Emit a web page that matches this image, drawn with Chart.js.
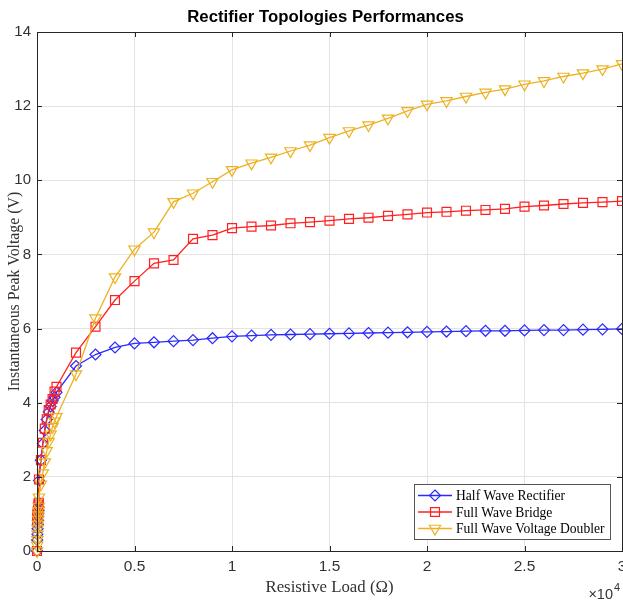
<!DOCTYPE html>
<html><head><meta charset="utf-8">
<script src="https://cdn.jsdelivr.net/npm/chart.js@4/dist/chart.umd.min.js"></script>
<style>html,body{margin:0;padding:0;background:#fff}#wrap{width:623px;height:600px;position:relative}</style>
</head><body><div id="wrap"><canvas id="c" width="623" height="600"></canvas></div>
<script>
// Resistive load (Ohm)
const loadOhm = [0,10,20,30,40,50,60,70,80,90,
  100,200,300,400,500,600,700,800,900,1000,
  2000,3000,4000,5000,6000,7000,8000,9000,10000,
  11000,12000,13000,14000,15000,16000,17000,18000,19000,20000,
  21000,22000,23000,24000,25000,26000,27000,28000,29000,30000];
// Instantaneous peak voltage (V)
const halfWave = [0,0.30,0.45,0.60,0.72,0.83,0.93,1.02,1.10,1.18,
  1.90,2.45,2.90,3.25,3.55,3.75,3.90,4.05,4.15,4.28,
  4.99,5.30,5.49,5.60,5.63,5.66,5.69,5.74,5.79,
  5.81,5.83,5.84,5.85,5.86,5.87,5.88,5.89,5.90,5.91,
  5.92,5.93,5.94,5.94,5.95,5.96,5.96,5.97,5.98,5.99];
const fullBridge = [0,0.80,0.90,0.98,1.05,1.10,1.15,1.20,1.25,1.30,
  1.93,2.45,2.92,3.30,3.55,3.80,3.95,4.10,4.30,4.43,
  5.35,6.05,6.77,7.28,7.76,7.85,8.42,8.52,8.71,
  8.75,8.78,8.84,8.87,8.91,8.96,8.99,9.04,9.08,9.13,
  9.15,9.18,9.20,9.23,9.29,9.32,9.36,9.39,9.41,9.44];
const voltageDoubler = [0,0.15,0.30,0.45,0.60,0.72,0.85,0.97,1.08,1.20,
  1.45,1.80,2.10,2.40,2.70,2.95,3.15,3.35,3.50,3.62,
  4.77,6.28,7.39,8.14,8.60,9.42,9.65,9.96,10.28,
  10.46,10.62,10.79,10.95,11.15,11.33,11.49,11.67,11.87,12.05,
  12.14,12.26,12.37,12.46,12.59,12.68,12.80,12.89,13.00,13.14];
const seriesNames = ['Half Wave Rectifier','Full Wave Bridge','Full Wave Voltage Doubler'];
const xTickValues = [0,5000,10000,15000,20000,25000,30000];
const yTickValues = [0,2,4,6,8,10,12,14];
const chartTitle = 'Rectifier Topologies Performances';
const xTitle = 'Resistive Load (\u03A9)';
const yTitle = 'Instantaneous Peak Voltage (V)';

const colors = ['#2a2aff','#ff2020','#EDB120'];
const styles = [{pointStyle:'rectRot',radius:5.5,rotation:0},{pointStyle:'rect',radius:6.3,rotation:0},{pointStyle:'triangle',radius:6.5,rotation:180}];
const seriesData = [halfWave, fullBridge, voltageDoubler];

const datasets = seriesData.map((arr,i)=>({
  label: seriesNames[i],
  data: arr.map((v,j)=>({x: loadOhm[j], y: v})),
  borderColor: colors[i],
  backgroundColor: 'rgba(0,0,0,0)',
  pointBackgroundColor: 'rgba(0,0,0,0)',
  pointBorderColor: colors[i],
  borderWidth: 1.3,
  pointBorderWidth: 1.2,
  pointStyle: styles[i].pointStyle,
  pointRadius: styles[i].radius,
  pointRotation: styles[i].rotation,
  tension: 0,
  clip: false,
  order: 2 - i
}));

function drawMarker(ctx, style, x, y, r, color){
  ctx.save();
  ctx.strokeStyle = color; ctx.lineWidth = 1.2;
  ctx.beginPath();
  if (style === 'rectRot'){
    ctx.moveTo(x, y - r); ctx.lineTo(x + r, y); ctx.lineTo(x, y + r); ctx.lineTo(x - r, y); ctx.closePath();
  } else if (style === 'rect'){
    const s = r * Math.SQRT1_2; ctx.rect(x - s, y - s, 2*s, 2*s);
  } else {
    const h = r * Math.sqrt(3) / 2;
    ctx.moveTo(x, y + r); ctx.lineTo(x + h, y - r/2); ctx.lineTo(x - h, y - r/2); ctx.closePath();
  }
  ctx.stroke();
  ctx.restore();
}

const decorPlugin = {
  id: 'decor',
  afterDraw(chart){
    const ctx = chart.ctx;
    const a = chart.chartArea;
    const xs = chart.scales.x, ys = chart.scales.y;
    ctx.save();
    // box
    ctx.strokeStyle = '#262626'; ctx.lineWidth = 1;
    ctx.strokeRect(Math.round(a.left)+0.5, Math.round(a.top)+0.5, Math.round(a.right-a.left), Math.round(a.bottom-a.top));
    // inward ticks
    ctx.beginPath();
    const tl = 5;
    xTickValues.forEach(v=>{
      const px = Math.round(xs.getPixelForValue(v)) + 0.5;
      ctx.moveTo(px, a.bottom); ctx.lineTo(px, a.bottom - tl);
      ctx.moveTo(px, a.top); ctx.lineTo(px, a.top + tl);
    });
    yTickValues.forEach(v=>{
      const py = Math.round(ys.getPixelForValue(v)) + 0.5;
      ctx.moveTo(a.left, py); ctx.lineTo(a.left + tl, py);
      ctx.moveTo(a.right, py); ctx.lineTo(a.right - tl, py);
    });
    ctx.stroke();
    // title
    ctx.fillStyle = '#000';
    ctx.font = 'bold 16.8px "Liberation Sans", Arial, sans-serif';
    ctx.textAlign = 'center'; ctx.textBaseline = 'middle';
    ctx.fillText(chartTitle, (a.left + a.right)/2 - 4, 17);
    // exponent label
    ctx.fillStyle = '#333';
    ctx.textAlign = 'right'; ctx.textBaseline = 'alphabetic';
    ctx.font = '14.5px "Liberation Sans", Arial, sans-serif';
    ctx.fillText('\u00D710', 613, 599);
    ctx.textAlign = 'left';
    ctx.font = '11px "Liberation Sans", Arial, sans-serif';
    ctx.fillText('4', 614, 591);
    // legend
    const lx = 414, ly = 484, lw = 196, lh = 55;
    ctx.fillStyle = '#fff';
    ctx.fillRect(lx, ly, lw, lh);
    ctx.strokeStyle = '#555';
    ctx.strokeRect(lx + 0.5, ly + 0.5, lw, lh);
    ctx.font = '13.6px "Liberation Serif", "Times New Roman", serif';
    ctx.textBaseline = 'middle';
    chart.data.datasets.forEach((ds,i)=>{
      const yy = ly + 11.5 + i * 16.5;
      ctx.strokeStyle = colors[i]; ctx.lineWidth = 1.3;
      ctx.beginPath(); ctx.moveTo(418, yy); ctx.lineTo(452, yy); ctx.stroke();
      drawMarker(ctx, styles[i].pointStyle, 435, yy, styles[i].radius, colors[i]);
      ctx.fillStyle = '#000';
      ctx.textAlign = 'left';
      ctx.fillText(ds.label, 456, yy + 1);
    });
    ctx.restore();
  }
};

new Chart(document.getElementById('c'), {
  type: 'line',
  data: { datasets },
  plugins: [decorPlugin],
  options: {
    responsive: false,
    devicePixelRatio: 1,
    animation: false,
    layout: { autoPadding: false, padding: { top: 32, right: 1, left: 0, bottom: 0 } },
    plugins: { legend: { display: false }, title: { display: false }, tooltip: { enabled: false } },
    scales: {
      x: {
        type: 'linear', min: 0, max: 30000,
        afterBuildTicks(s){ s.ticks = xTickValues.map(v=>({value:v})); },
        afterFit(s){ s.height = 49; s.paddingLeft = 0; s.paddingRight = 0; },
        ticks: {
          autoSkip: false, maxRotation: 0, padding: 6, color: '#333',
          font: { family: '"Liberation Sans", Arial, sans-serif', size: 15.5 },
          callback: v => String(v / 10000)
        },
        grid: { color: '#e3e3e3', drawTicks: false, lineWidth: 1 },
        border: { display: false },
        title: { display: true, text: xTitle, color: '#333', padding: { top: 0, bottom: 2 },
          font: { family: '"Liberation Serif", "Times New Roman", serif', size: 16.8 } }
      },
      y: {
        type: 'linear', min: 0, max: 14,
        afterBuildTicks(s){ s.ticks = yTickValues.map(v=>({value:v})); },
        afterFit(s){ s.width = 37; s.paddingTop = 0; s.paddingBottom = 0; },
        ticks: {
          padding: 6, color: '#333',
          font: { family: '"Liberation Sans", Arial, sans-serif', size: 15 }
        },
        grid: { color: '#e3e3e3', drawTicks: false, lineWidth: 1 },
        border: { display: false },
        title: { display: true, text: yTitle, color: '#333', padding: { top: 5, bottom: 0 },
          font: { family: '"Liberation Serif", "Times New Roman", serif', size: 15.8 } }
      }
    }
  }
});
</script>
</body></html>
